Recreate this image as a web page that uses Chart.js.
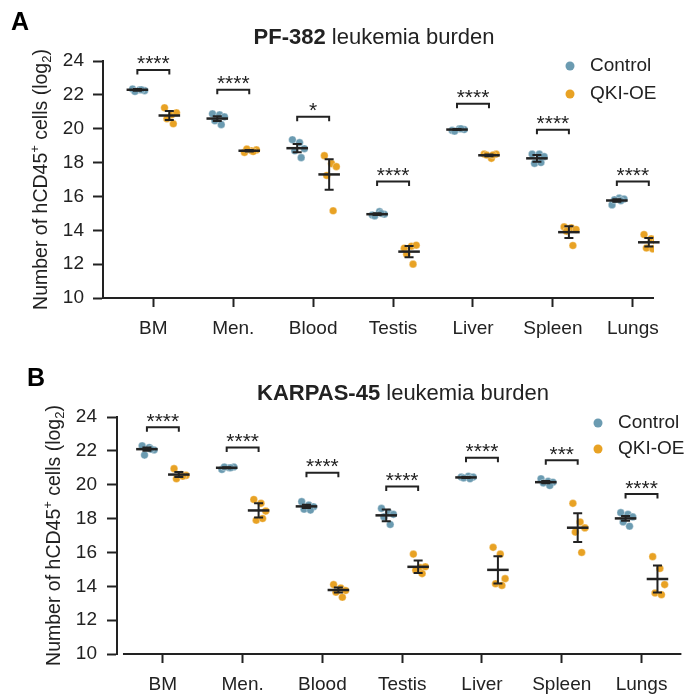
<!DOCTYPE html>
<html lang="en">

<head>
    <meta charset="UTF-8" />
    <title>Leukemia burden</title>
    <script src="https://cdn.jsdelivr.net/npm/chart.js@4.4.0/dist/chart.umd.min.js"></script>
    <style>
        body { margin: 0; background: #fff; }
        #wrap { position: relative; width: 686px; height: 696px; }
        .panel { position: absolute; left: 0; width: 686px; height: 348px; }
    </style>
</head>

<body>
    <div id="wrap">
        <div class="panel" style="top:0"><canvas id="chartA" width="686" height="348"></canvas></div>
        <div class="panel" style="top:348px"><canvas id="chartB" width="686" height="348"></canvas></div>
    </div>

    <script>
        // categories and axis ticks
        const tissues = ["BM", "Men.", "Blood", "Testis", "Liver", "Spleen", "Lungs"];
        const yTicks = [10, 12, 14, 16, 18, 20, 22, 24];

        // PF-382 (panel A), log2 counts per mouse
        const pfControl = [
            [22.35, 22.3, 22.25, 22.2, 22.3],
            [20.88, 20.82, 20.7, 20.47, 20.24],
            [19.35, 19.18, 18.82, 18.7, 18.29],
            [14.9, 15.1, 14.95, 14.85, 15.0],
            [19.9, 20.0, 19.95, 19.85, 20.0],
            [18.5, 18.5, 18.35, 17.95, 18.0],
            [15.5, 15.9, 15.85, 15.8, 15.75]
        ];
        const pfQki = [
            [21.24, 20.82, 20.94, 20.59, 20.29],
            [18.6, 18.7, 18.75, 18.8, 18.65],
            [18.41, 17.94, 17.76, 17.24, 15.15],
            [12.94, 13.06, 13.12, 12.59, 12.0],
            [18.5, 18.25, 18.5, 18.45, 18.45],
            [14.2, 14.15, 14.05, 13.95, 13.1],
            [13.75, 13.5, 13.35, 12.95, 12.9]
        ];
        const pfControlMean = [22.3, 20.6, 18.85, 14.95, 19.95, 18.25, 15.76];
        const pfControlErr = [0.05, 0.14, 0.24, 0.05, 0.03, 0.2, 0.08];
        const pfQkiMean = [20.78, 18.7, 17.3, 12.74, 18.43, 13.89, 13.29];
        const pfQkiErr = [0.27, 0.04, 0.9, 0.33, 0.05, 0.35, 0.25];
        const pfBracket = [23.47, 22.3, 20.7, 16.88, 21.47, 19.94, 16.88];
        const pfStars = ["****", "****", "*", "****", "****", "****", "****"];

        // KARPAS-45 (panel B)
        const kpControl = [
            [22.3, 22.2, 22.05, 21.75, 22.1],
            [20.9, 21.0, 21.05, 21.05, 21.0],
            [19.0, 18.8, 18.7, 18.55, 18.5],
            [18.6, 18.35, 18.25, 18.1, 17.65],
            [20.45, 20.5, 20.45, 20.4, 20.35],
            [20.35, 20.2, 20.15, 20.1, 19.95],
            [18.35, 18.25, 18.1, 17.8, 17.55]
        ];
        const kpQki = [
            [20.95, 20.6, 20.55, 20.35, 20.5],
            [19.13, 18.9, 18.44, 17.9, 18.0],
            [14.1, 13.9, 13.75, 13.65, 13.35],
            [15.9, 15.1, 15.15, 14.95, 14.75],
            [16.3, 15.9, 14.45, 14.15, 14.05],
            [18.9, 17.8, 17.45, 17.2, 16.0],
            [15.75, 15.05, 14.1, 13.6, 13.5]
        ];
        const kpControlMean = [22.1, 21.0, 18.72, 18.19, 20.43, 20.15, 18.01];
        const kpControlErr = [0.1, 0.03, 0.1, 0.35, 0.03, 0.07, 0.14];
        const kpQkiMean = [20.6, 18.48, 13.78, 15.15, 14.97, 17.46, 14.43];
        const kpQkiErr = [0.15, 0.42, 0.15, 0.37, 0.8, 0.85, 0.8];
        const kpBracket = [23.4, 22.2, 20.7, 19.9, 21.6, 21.45, 19.45];
        const kpStars = ["****", "****", "****", "****", "****", "***", "****"];

        const BLUE = "#6b9bb1";
        const ORANGE = "#e8a224";
        const INK = "#222222";
        const FONT = "'Liberation Sans', Arial, Helvetica, sans-serif";
        const jitter = [-0.06, 0.03, 0.09, -0.03, 0.05]; // strip plot spread
        const groupOff = 0.2;

        function toPoints(groups, side) {
            const pts = [];
            groups.forEach((vals, i) => {
                vals.forEach((v, k) => {
                    pts.push({ x: i + side * groupOff + jitter[k], y: v });
                });
            });
            return pts;
        }

        function makePanel(id, p) {
            const decor = {
                id: "decor",
                afterDatasetsDraw(chart) {
                    const ctx = chart.ctx;
                    const xs = chart.scales.x;
                    const ys = chart.scales.y;
                    const area = chart.chartArea;
                    ctx.save();
                    ctx.strokeStyle = INK;
                    ctx.fillStyle = INK;

                    // x axis line (offset spine)
                    ctx.lineWidth = 2;
                    ctx.beginPath();
                    ctx.moveTo(xs.getPixelForValue(p.axisFrom), area.bottom);
                    ctx.lineTo(area.right, area.bottom);
                    ctx.stroke();

                    // mean + error bars
                    const groups = [[p.cMean, p.cErr, -1], [p.qMean, p.qErr, 1]];
                    groups.forEach(([means, errs, side]) => {
                        means.forEach((m, i) => {
                            const c = i + side * groupOff;
                            const ym = ys.getPixelForValue(m);
                            const yt = ys.getPixelForValue(m + errs[i]);
                            const yb = ys.getPixelForValue(m - errs[i]);
                            ctx.lineWidth = 2.5;
                            ctx.beginPath();
                            ctx.moveTo(xs.getPixelForValue(c - 0.135), ym);
                            ctx.lineTo(xs.getPixelForValue(c + 0.135), ym);
                            ctx.stroke();
                            ctx.lineWidth = 2;
                            const xc = xs.getPixelForValue(c);
                            ctx.beginPath();
                            ctx.moveTo(xc, yt);
                            ctx.lineTo(xc, yb);
                            ctx.moveTo(xc - 4.5, yt);
                            ctx.lineTo(xc + 4.5, yt);
                            ctx.moveTo(xc - 4.5, yb);
                            ctx.lineTo(xc + 4.5, yb);
                            ctx.stroke();
                        });
                    });

                    // significance brackets
                    ctx.textAlign = "center";
                    ctx.textBaseline = "alphabetic";
                    ctx.font = "21px " + FONT;
                    p.bracket.forEach((b, i) => {
                        const y0 = ys.getPixelForValue(b);
                        const x0 = xs.getPixelForValue(i - groupOff);
                        const x1 = xs.getPixelForValue(i + groupOff);
                        ctx.lineWidth = 2;
                        ctx.beginPath();
                        ctx.moveTo(x0, y0 + 4.5);
                        ctx.lineTo(x0, y0);
                        ctx.lineTo(x1, y0);
                        ctx.lineTo(x1, y0 + 4.5);
                        ctx.stroke();
                        ctx.fillText(p.stars[i], (x0 + x1) / 2, y0 + 0.5);
                    });

                    // title, bold prefix + regular rest
                    ctx.textAlign = "left";
                    ctx.textBaseline = "middle";
                    const bold = "bold 22px " + FONT;
                    const reg = "22px " + FONT;
                    ctx.font = bold;
                    const w1 = ctx.measureText(p.titleBold).width;
                    ctx.font = reg;
                    const w2 = ctx.measureText(p.titleRest).width;
                    let tx = p.titleCx - (w1 + w2) / 2;
                    ctx.font = bold;
                    ctx.fillText(p.titleBold, tx, p.titleY);
                    ctx.font = reg;
                    ctx.fillText(p.titleRest, tx + w1, p.titleY);

                    // panel letter
                    ctx.font = "bold 25px " + FONT;
                    ctx.fillStyle = "#000";
                    ctx.fillText(p.letter, p.letterX, p.letterY);

                    // legend
                    ctx.font = "19px " + FONT;
                    ctx.fillStyle = INK;
                    [["Control", BLUE], ["QKI-OE", ORANGE]].forEach(([lab, col], k) => {
                        const ly = p.legY + k * p.legGap;
                        ctx.beginPath();
                        ctx.arc(p.legX, ly, 4.5, 0, Math.PI * 2);
                        ctx.fillStyle = col;
                        ctx.fill();
                        ctx.fillStyle = INK;
                        ctx.fillText(lab, p.legX + 20, ly);
                    });

                    // y axis title with superscript / subscript
                    ctx.translate(p.yTitleX, (area.top + area.bottom) / 2);
                    ctx.rotate(-Math.PI / 2);
                    const parts = [
                        ["Number of hCD45", 19.5, 0],
                        ["+", 13, -7],
                        [" cells (log", 19.5, 0],
                        ["2", 13, 5],
                        [")", 19.5, 0]
                    ];
                    let total = 0;
                    parts.forEach(([t, s]) => { ctx.font = s + "px " + FONT; total += ctx.measureText(t).width; });
                    let px = -total / 2;
                    parts.forEach(([t, s, dy]) => {
                        ctx.font = s + "px " + FONT;
                        ctx.fillText(t, px, dy);
                        px += ctx.measureText(t).width;
                    });
                    ctx.restore();
                }
            };

            return new Chart(document.getElementById(id), {
                type: "scatter",
                data: {
                    datasets: [
                        {
                            label: "Control",
                            data: toPoints(p.control, -1),
                            backgroundColor: BLUE,
                            borderColor: "rgba(255,255,255,0.55)",
                            borderWidth: 0.6,
                            pointRadius: 3.8
                        },
                        {
                            label: "QKI-OE",
                            data: toPoints(p.qki, 1),
                            backgroundColor: ORANGE,
                            borderColor: "rgba(255,255,255,0.55)",
                            borderWidth: 0.6,
                            pointRadius: 3.8
                        }
                    ]
                },
                options: {
                    responsive: false,
                    animation: false,
                    devicePixelRatio: 1,
                    layout: { padding: { left: 0, top: p.top, right: p.right, bottom: 0 } },
                    plugins: { legend: { display: false }, title: { display: false }, tooltip: { enabled: false } },
                    scales: {
                        x: {
                            type: "linear",
                            min: p.xMin,
                            max: p.xMax,
                            afterBuildTicks: (s) => { s.ticks = tissues.map((t, i) => ({ value: i })); },
                            afterFit: (s) => { s.height = p.xHeight; },
                            ticks: {
                                callback: (v) => tissues[v],
                                color: INK,
                                font: { family: FONT, size: 19 },
                                padding: 10,
                                maxRotation: 0,
                                autoSkip: false
                            },
                            border: { display: false },
                            grid: { drawOnChartArea: false, tickLength: 9, tickColor: INK, tickWidth: 2 }
                        },
                        y: {
                            min: 10,
                            max: 24,
                            afterBuildTicks: (s) => { s.ticks = yTicks.map((v) => ({ value: v })); },
                            afterFit: (s) => { s.width = p.yWidth; },
                            ticks: {
                                color: INK,
                                font: { family: FONT, size: 19 },
                                padding: p.yPad
                            },
                            border: { display: true, color: INK, width: 2 },
                            grid: { drawOnChartArea: false, tickLength: 10, tickColor: INK, tickWidth: 2 }
                        }
                    }
                },
                plugins: [decor]
            });
        }

        makePanel("chartA", {
            control: pfControl, qki: pfQki,
            cMean: pfControlMean, cErr: pfControlErr,
            qMean: pfQkiMean, qErr: pfQkiErr,
            bracket: pfBracket, stars: pfStars,
            titleBold: "PF-382", titleRest: " leukemia burden", titleCx: 374, titleY: 38,
            letter: "A", letterX: 11, letterY: 23,
            legX: 570, legY: 66, legGap: 28,
            yTitleX: 42,
            top: 61, right: 32, yWidth: 103, xHeight: 50, yPad: 9,
            xMin: -0.63, xMax: 6.265, axisFrom: -0.63
        });

        makePanel("chartB", {
            control: kpControl, qki: kpQki,
            cMean: kpControlMean, cErr: kpControlErr,
            qMean: kpQkiMean, qErr: kpQkiErr,
            bracket: kpBracket, stars: kpStars,
            titleBold: "KARPAS-45", titleRest: " leukemia burden", titleCx: 403, titleY: 46,
            letter: "B", letterX: 27, letterY: 31,
            legX: 598, legY: 75, legGap: 26,
            yTitleX: 55,
            top: 69, right: 3, yWidth: 117, xHeight: 42, yPad: 10,
            xMin: -0.575, xMax: 6.5, axisFrom: -0.5
        });
    </script>
</body>

</html>
